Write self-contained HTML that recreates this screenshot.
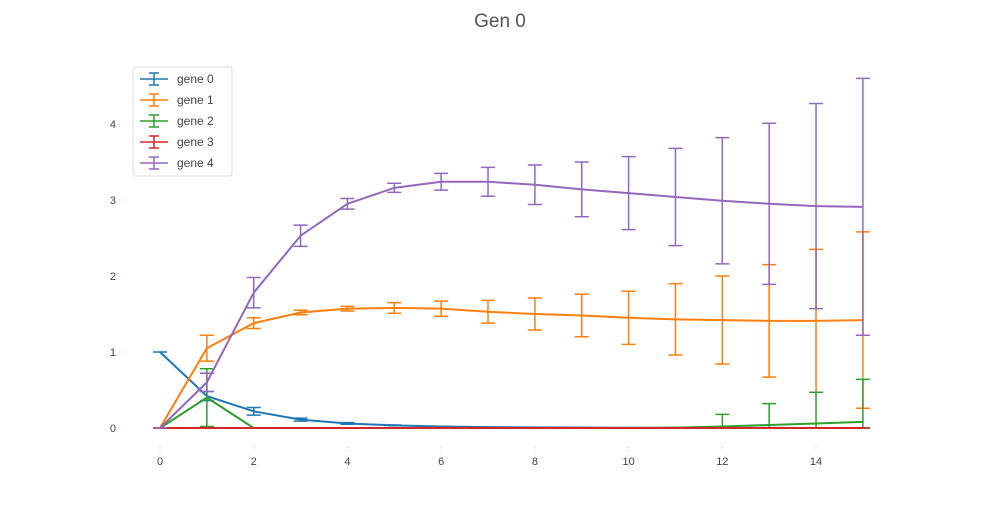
<!DOCTYPE html>
<html><head><meta charset="utf-8"><style>
body{margin:0;background:#fff;}
svg text{font-family:"Liberation Sans",sans-serif;}
</style></head><body>
<svg id="chart" width="1000" height="500" xmlns="http://www.w3.org/2000/svg">
<text x="500" y="27" text-anchor="middle" font-size="19" fill="#555">Gen 0</text>
<g id="axes"></g><g id="series"></g><g id="legend"></g>
</svg>
<script>
const xs=[0,1,2,3,4,5,6,7,8,9,10,11,12,13,14,15];
const seriesNames=["gene 0","gene 1","gene 2","gene 3","gene 4"];
const colors=["#1f77b4","#ff7f0e","#2ca02c","#d62728","#9467bd"];
const gene0=[1.0,0.42,0.22,0.11,0.06,0.035,0.02,0.012,0.008,0.005,0.003,0.002,0.001,0.001,0,0];
const gene0Err=[0,0.06,0.05,0.02,0.01,0.005,0,0,0,0,0,0,0,0,0,0];
const gene1=[0,1.05,1.38,1.52,1.57,1.58,1.57,1.53,1.5,1.48,1.45,1.43,1.42,1.41,1.41,1.42];
const gene1Err=[0,0.17,0.07,0.03,0.03,0.07,0.1,0.15,0.21,0.28,0.35,0.47,0.58,0.74,0.94,1.16];
const gene2=[0,0.4,0,0,0,0,0,0,0,0,0,0.005,0.02,0.04,0.06,0.08];
const gene2Err=[0,0.38,0,0,0,0,0,0,0,0,0,0,0.16,0.28,0.41,0.56];
const gene3=[0,0,0,0,0,0,0,0,0,0,0,0,0,0,0,0];
const gene3Err=[0,0,0,0,0,0,0,0,0,0,0,0,0,0,0,0];
const gene4=[0,0.6,1.78,2.53,2.95,3.16,3.24,3.24,3.2,3.14,3.09,3.04,2.99,2.95,2.92,2.91];
const gene4Err=[0,0.12,0.2,0.14,0.07,0.06,0.11,0.19,0.26,0.36,0.48,0.64,0.83,1.06,1.35,1.69];
const xTicks=[0,2,4,6,8,10,12,14];
const yTicks=[0,1,2,3,4];
const X=v=>160+v*46.86, Y=v=>428-v*76;
const NS="http://www.w3.org/2000/svg";
function mk(tag,attrs,parent){const e=document.createElementNS(NS,tag);for(const k in attrs)e.setAttribute(k,attrs[k]);parent.appendChild(e);return e;}
const axes=document.getElementById('axes');
xTicks.forEach(t=>{
 const l=mk('line',{x1:X(t),x2:X(t),y1:447,y2:452,stroke:'#ccc','stroke-dasharray':'1,2'},axes);
 
 
 const tx=mk('text',{x:X(t),y:465,'text-anchor':'middle','font-size':11,fill:'#444'},axes);
 tx.textContent=t;
 
 
});
yTicks.forEach(t=>{
 const l=mk('line',{x1:119,x2:124,y1:Y(t),y2:Y(t),stroke:'#ccc','stroke-dasharray':'1,2'},axes);
 
 
 const tx=mk('text',{x:116,y:Y(t)+4,'text-anchor':'end','font-size':11,fill:'#444'},axes);
 tx.textContent=t;
 
 
});
const data=[gene0,gene1,gene2,gene3,gene4], errs=[gene0Err,gene1Err,gene2Err,gene3Err,gene4Err];
const sg=document.getElementById('series');
data.forEach((d,i)=>{
 const g=mk('g',{},sg);
 
 
 const p=mk('polyline',{points:d.map((v,j)=>X(xs[j])+','+Y(v)).join(' '),fill:'none',stroke:colors[i],'stroke-width':2},g);
 
 
 d.forEach((v,j)=>{
  const e=errs[i][j];
  const lo=Math.max(0,v-e), hi=v+e;
  const eb=mk('path',{d:`M${X(xs[j])},${Y(hi)}V${Y(lo)}M${X(xs[j])-7},${Y(hi)}h14M${X(xs[j])-7},${Y(lo)}h14`,stroke:colors[i],'stroke-width':1.5,fill:'none'},g);
  
  
 });
});
const lg=document.getElementById('legend');
const box=mk('rect',{x:133,y:67,width:99,height:109,rx:3,fill:'#fff',stroke:'#ddd'},lg);


seriesNames.forEach((n,i)=>{
 const y=79+i*21;
 const m=mk('path',{d:`M140,${y}h28M154,${y-6}v12M149,${y-6}h10M149,${y+6}h10`,stroke:colors[i],'stroke-width':1.5,fill:'none'},lg);
 
 
 const t=mk('text',{x:177,y:y+4,'font-size':12,fill:'#444'},lg);
 t.textContent=n;
 
 
});
</script>
</body></html>
